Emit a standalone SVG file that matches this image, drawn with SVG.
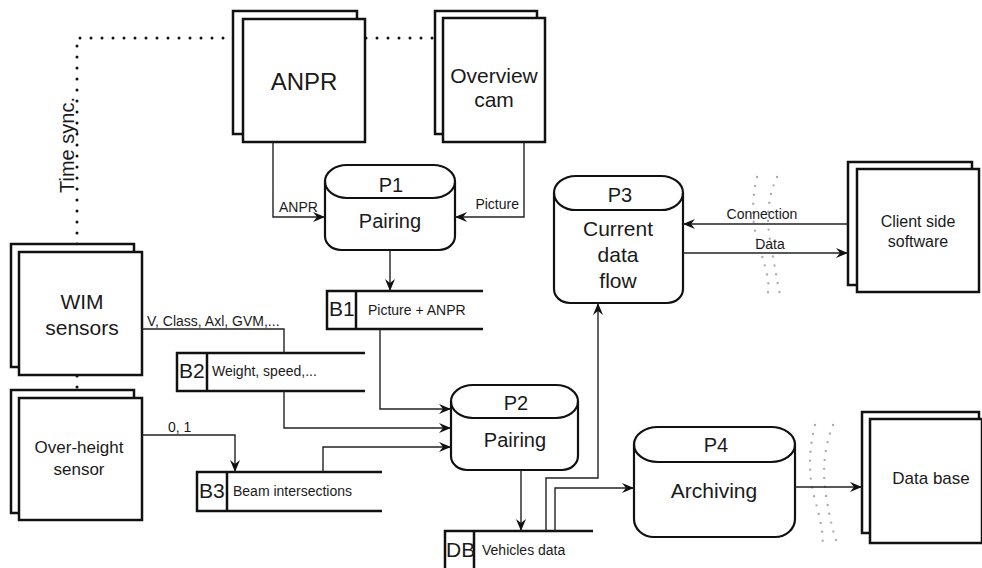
<svg xmlns="http://www.w3.org/2000/svg" width="982" height="568" viewBox="0 0 982 568">
<defs>
<marker id="arr" viewBox="0 0 12 10" refX="12" refY="5" markerWidth="13" markerHeight="10" markerUnits="userSpaceOnUse" orient="auto">
<path d="M0,0 L12,5 L0,10 L4,5 Z" fill="#111"/>
</marker>
<style>
.box{fill:#fff;stroke:#111;stroke-width:2.5}
.proc{fill:#fff;stroke:#111;stroke-width:2.2}
.sep{fill:none;stroke:#111;stroke-width:2.2}
.store{fill:none;stroke:#111;stroke-width:2.5}
.con{fill:none;stroke:#222;stroke-width:1.4}
.arrow{marker-end:url(#arr)}
.sync{fill:none;stroke:#111;stroke-width:3;stroke-dasharray:0 11;stroke-linecap:round}
.brk{fill:none;stroke:#a8aeb8;stroke-width:2.4;stroke-dasharray:0 9;stroke-linecap:round}
text{font-family:"Liberation Sans",Arial,sans-serif;fill:#1a1a1a}
.c{text-anchor:middle}
.lbl{font-size:14px}
</style>
</defs>
<rect width="982" height="568" fill="#fff"/>

<g id="timesync">
<path class="sync" d="M443,38 H77 V392"/>
<text x="0" y="0" font-size="20" class="c" transform="translate(74,145) rotate(-90)">Time sync.</text>
</g>

<g id="anpr">
<rect class="box" x="233" y="11" width="124" height="123"/>
<rect class="box" x="243" y="19" width="122" height="123"/>
<text x="304" y="90" font-size="24" class="c">ANPR</text>
</g>

<g id="overview">
<rect class="box" x="435" y="11" width="102" height="123"/>
<rect class="box" x="443" y="18" width="102" height="124"/>
<text x="494" y="83" font-size="21" class="c">Overview</text>
<text x="494" y="107" font-size="21" class="c">cam</text>
</g>

<g id="wim">
<rect class="box" x="11" y="244" width="123" height="123"/>
<rect class="box" x="19" y="252" width="123" height="123"/>
<text x="82" y="309" font-size="21" class="c">WIM</text>
<text x="82" y="335" font-size="21" class="c">sensors</text>
</g>

<g id="overheight">
<rect class="box" x="11" y="390" width="123" height="123"/>
<rect class="box" x="19" y="398" width="123" height="122"/>
<text x="79" y="453" font-size="17" class="c">Over-height</text>
<text x="79" y="475" font-size="17" class="c">sensor</text>
</g>

<g id="client">
<rect class="box" x="848" y="162" width="124" height="123"/>
<rect class="box" x="857" y="169" width="122" height="123"/>
<text x="918" y="227" font-size="16" class="c">Client side</text>
<text x="918" y="247" font-size="16" class="c">software</text>
</g>

<g id="database">
<rect class="box" x="862" y="412" width="117" height="121"/>
<rect class="box" x="870" y="419" width="112" height="124"/>
<text x="931" y="484" font-size="17" class="c">Data base</text>
</g>

<g id="p1">
<path class="proc" d="M325,181.5 A22,16.5 0 0 1 347,165 H433 A22,16.5 0 0 1 455,181.5 V236 A16,14 0 0 1 439,250 H341 A16,14 0 0 1 325,236 Z"/>
<path class="sep" d="M325,181.5 A22,16.5 0 0 0 347,198 H433 A22,16.5 0 0 0 455,181.5"/>
<text x="391" y="192" font-size="20" class="c">P1</text>
<text x="390" y="228" font-size="20" class="c">Pairing</text>
</g>

<g id="p2">
<path class="proc" d="M451,401.5 A22,16.5 0 0 1 473,385 H556 A22,16.5 0 0 1 578,401.5 V456 A16,14 0 0 1 562,470 H467 A16,14 0 0 1 451,456 Z"/>
<path class="sep" d="M451,401.5 A22,16.5 0 0 0 473,418 H556 A22,16.5 0 0 0 578,401.5"/>
<text x="516" y="410" font-size="20" class="c">P2</text>
<text x="515" y="447" font-size="20" class="c">Pairing</text>
</g>

<g id="p3">
<path class="proc" d="M554,193 A22,17 0 0 1 576,176 H661 A22,17 0 0 1 683,193 V289 A16,14 0 0 1 667,303 H570 A16,14 0 0 1 554,289 Z"/>
<path class="sep" d="M554,193 A22,17 0 0 0 576,210 H661 A22,17 0 0 0 683,193"/>
<text x="620" y="202" font-size="20" class="c">P3</text>
<text x="618" y="236" font-size="21" class="c">Current</text>
<text x="618" y="262" font-size="21" class="c">data</text>
<text x="618" y="288" font-size="21" class="c">flow</text>
</g>

<g id="p4">
<path class="proc" d="M634,444.5 A24,17.5 0 0 1 658,427 H771 A24,17.5 0 0 1 795,444.5 V519 A20,18 0 0 1 775,537 H654 A20,18 0 0 1 634,519 Z"/>
<path class="sep" d="M634,444.5 A24,17.5 0 0 0 658,462 H771 A24,17.5 0 0 0 795,444.5"/>
<text x="716" y="452" font-size="20" class="c">P4</text>
<text x="714" y="498" font-size="21" class="c">Archiving</text>
</g>

<g id="b1">
<path class="store" d="M483,291 H327 V329 H483 M356,291 V329"/>
<text x="329" y="316" font-size="21">B1</text>
<text x="368" y="315" class="lbl">Picture + ANPR</text>
</g>

<g id="b2">
<path class="store" d="M365,353 H177 V391 H365 M207,353 V391"/>
<text x="179" y="378" font-size="21">B2</text>
<text x="212" y="376" class="lbl">Weight, speed,...</text>
</g>

<g id="b3">
<path class="store" d="M382,472 H197 V511 H382 M227,472 V511"/>
<text x="199" y="498" font-size="21">B3</text>
<text x="233" y="496" class="lbl">Beam intersections</text>
</g>

<g id="db">
<path class="store" d="M593,531 H445 V570 M474,531 V570"/>
<text x="446" y="557" font-size="21">DB</text>
<text x="482" y="555" class="lbl">Vehicles data</text>
</g>

<g id="breaks">
<path class="brk" d="M757,177 Q748,215 760,250 T767,295"/>
<path class="brk" d="M777,177 Q764,205 770,240 T780,295"/>
<path class="brk" d="M815,425 Q805,465 815,500 T822,545"/>
<path class="brk" d="M833,425 Q820,458 826,495 T838,545"/>
</g>

<g id="connectors">
<path class="con arrow" d="M273,142 V217 H325"/>
<path class="con arrow" d="M524,142 V217 H455"/>
<path class="con arrow" d="M390,250 V291"/>
<path class="con arrow" d="M380,329 V409 H451"/>
<path class="con" d="M142,329 H284 V353"/>
<path class="con arrow" d="M284,391 V428 H451"/>
<path class="con arrow" d="M142,435 H235 V472"/>
<path class="con arrow" d="M323,472 V447 H451"/>
<path class="con arrow" d="M521,470 V531"/>
<path class="con arrow" d="M546,531 V478 H598 V303"/>
<path class="con arrow" d="M555,531 V488 H634"/>
<path class="con arrow" d="M795,487 H862"/>
<path class="con arrow" d="M848,224 H683"/>
<path class="con arrow" d="M683,253 H848"/>
<text x="279" y="212" class="lbl">ANPR</text>
<text x="519" y="209" class="lbl" text-anchor="end">Picture</text>
<text x="147" y="326" class="lbl">V, Class, Axl, GVM,...</text>
<text x="168" y="432" class="lbl">0, 1</text>
<text x="762" y="219" class="lbl c">Connection</text>
<text x="770" y="249" class="lbl c">Data</text>
</g>
</svg>
